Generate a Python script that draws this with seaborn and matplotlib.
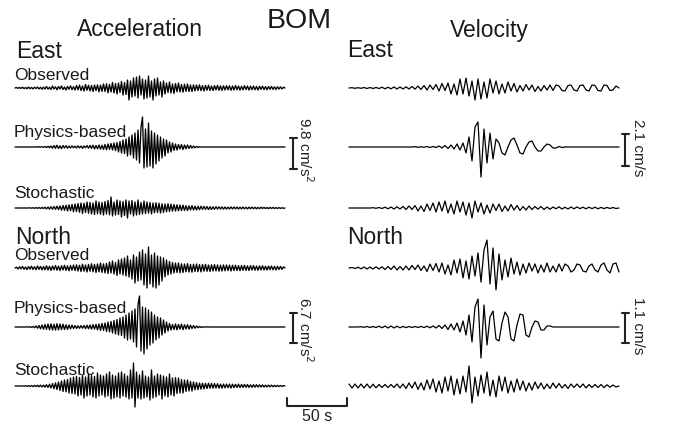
import numpy as np
import pandas as pd
import seaborn as sns
import matplotlib
import matplotlib.pyplot as plt

matplotlib.use('Agg')

dt_acc = 1.25
dt_vel = 2.5

acc_east_obs = [0, .5, -.4, .6, -.5, .8, -.6, .5, -.8, 1, -.7, .6, -.9, .8, -.5, 1, -1, .7, -1.2, .9,
                -1, 1.5, -1.2, .8, -1.5, 2, -1, 1.2, -1.8, 1.5, -1, 2, -1.5, 1, -2, 1.6, -1.3, 2.2, -1.7, 1.4,
                -2, 2.5, -1.8, 3, -2.5, 2, -3, 3.5, -2.2, 2.8, -3, 2.5, -3.5, 3, -2.6, 3.2, -3.8, 2.9, -3.3, 4,
                -3.5, 4.2, -4.8, 3.6, -4, 5.5, -5, 4.5, -6, 5, -4.5, 6.5, -7, 5.5, -6.5, 8, -12, 7, -9, 10,
                -8, 11, -10, 12, -7, 9, -11, 8, -10, 12, -9, 7, -12, 9, -8, 10, -7, 6, -9, 7,
                -6, 5, -4.5, 6, -5, 4, -5.5, 4.5, -3.8, 5, -4, 3.5, -4.2, 3.8, -3.3, 4, -3.5, 3, -3.6, 3.2,
                -2.8, 3, -2.5, 3.2, -2.7, 2.4, -3, 2.6, -2.2, 2.8, -2.5, 2, -2.6, 2.4, -2, 2.7, -2.3, 2.1, -2.5, 2.2,
                -2, 2.4, -1.8, 2.2, -2.3, 1.9, -2, 2.5, -1.8, 2, -2.2, 1.7, -1.9, 2.3, -1.6, 2, -2.1, 1.8, -1.7, 2,
                -1.8, 1.6, -2, 1.7, -1.5, 1.9, -1.6, 1.4, -1.8, 1.5, -1.3, 1.6, -1.4, 1.2, -1.5, 1.3, -1.1, 1.2, -1, .8, 0]
acc_east_phys = [0, 0, 0, 0, 0, 0, 0, 0, 0, 0, 0, 0, 0, 0, .2, -.2, .3, -.2, .3, -.3,
                 .5, -.6, .8, -.7, 1, -1.2, 1.5, -1.3, 1.8, -1.5, 1.2, -1.6, 1.4, -1, 1.3, -1.2, .9, -1, 1.1, -.8,
                 .8, -1, 1.2, -.9, 1, -1.3, 1.1, -.8, 1.5, -1.2, 1.6, -1.4, 1.8, -2, 1.5, -1.7, 2, -2.2, 1.8, -2.4,
                 2.5, -2.8, 3, -2.4, 3.5, -3, 4, -3.6, 4.5, -5, 5.5, -6, 7, -6.5, 8, -9, 10, -8, 12, -11,
                 14, -13, 17, -16, 20, 30, -21, 18, -20, 24, -19, 16, -21, 14, -17, 12, -14, 10, -11, 8,
                 -9, 7, -6, 5, -5, 4, -3.5, 3, -3, 2.5, -2, 2.5, -2.5, 2, -1.8, 2, -1.5, 1.5, -1.2, 1,
                 -.8, .6, -.5, .3, -.2, .1, 0, 0, 0, 0, 0, 0, 0, 0, 0, 0, 0, 0, 0, 0,
                 0, 0, 0, 0, 0, 0, 0, 0, 0, 0, 0, 0, 0, 0, 0, 0, 0, 0, 0, 0,
                 0, 0, 0, 0, 0, 0, 0, 0, 0, 0, 0, 0, 0, 0, 0, 0, 0, 0, 0, 0, 0]
acc_east_stoch = [0, 0, 0, 0, 0, 0, 0, 0, 0, 0, .2, -.2, .3, -.3, .4, -.4, .5, -.5, .6, -.6,
                  .8, -.9, 1, -1.1, 1.3, -1.2, 1.5, -1.4, 1.8, -1.6, 2, -2.2, 2.5, -2.3, 2.8, -3, 3.2, -2.8, 3.5, -3.8,
                  4, -3.5, 4.5, -4.2, 5, -5.5, 4.8, -4.5, 6, -5.2, 5.5, -6, 5, -6.5, 7, -5.8, 6, -6.2, 5.5, -7,
                  6.5, -6, 7.5, -6.8, 11, -8, 6, -7, 8, -6.5, 7, -9, 6.5, -7.5, 8, -10, 7, -6, 7.5, -8,
                  6, -7, 8, -6.5, 5.5, -6, 7, -5.5, 6, -5, 5.5, -6, 5, -4.8, 5.2, -4.5, 4.8, -5, 4.2, -4.5,
                  4, -3.8, 4.2, -3.5, 3.8, -3.2, 3.5, -3, 3.2, -2.8, 3, -2.6, 2.8, -2.5, 2.4, -2.6, 2.2, -2, 2.3, -2,
                  1.8, -2, 1.7, -1.6, 1.8, -1.5, 1.6, -1.4, 1.5, -1.6, 1.3, -1.4, 1.2, -1.3, 1.4, -1.1, 1.2, -1, 1.1, -1.2,
                  1, -1.1, .9, -1, 1.1, -.9, 1, -.8, .9, -1, .8, -.9, 1, -.8, .7, -.9, .8, -.7, .9, -.8,
                  .7, -.8, .6, -.7, .8, -.6, .7, -.6, .5, -.7, .6, -.5, .6, -.5, .4, -.5, .4, -.4, .3, -.3, 0]
acc_north_obs = [0, .8, -1, 1.2, -.9, 1.5, -1.3, 1, -1.6, 1.4, -1.2, 1.8, -1.5, 1.3, -1.7, 2, -1.4, 1.6, -1.9, 1.5,
                 -1.8, 2.2, -2, 1.7, -2.4, 2, -1.8, 2.5, -2.2, 1.9, -2.6, 2.3, -2, 2.7, -2.4, 2.1, -2.8, 2.5, -2.2, 3,
                 -2.6, 3.2, -3, 2.8, -3.5, 3.8, -3.2, 3, -4, 3.5, -3.3, 4.2, -3.8, 3.6, -4.5, 4, -3.8, 5, -4.4, 4.2,
                 -5, 4.6, -5.5, 6, -5, 7, -6, 5.5, -7.5, 8, -6, 9, -7, 10, -8, 12, -9, 8, -11, 13,
                 -15, 11, -13, 16, -12, 18, -17, 14, -20, 21, -16, 13, -19, 15, -20, 12, -17, 11, -13, 10,
                 -9, 8, -7, 6.5, -6, 5.5, -5, 5, -4.5, 5, -4.8, 4.2, -4.5, 4, -3.8, 4.4, -4, 3.6, -4.2, 3.8,
                 -3.5, 4, -3.7, 3.4, -3.9, 3.5, -3.2, 3.7, -3.3, 3, -3.5, 3.2, -3, 3.4, -2.9, 3.1, -3.2, 2.8, -3, 3.1,
                 -2.8, 3, -2.6, 2.9, -3, 2.7, -2.5, 2.8, -2.6, 2.4, -2.7, 2.5, -2.3, 2.6, -2.4, 2.2, -2.5, 2.3, -2.1, 2.4,
                 -2.2, 2, -2.3, 2.1, -1.9, 2.2, -2, 1.8, -2.1, 1.9, -1.7, 2, -1.8, 1.6, -1.9, 1.7, -1.5, 1.6, -1.4, 1.2, 0]
acc_north_phys = [0, 0, 0, 0, 0, 0, 0, 0, .2, -.2, .3, -.4, .5, -.7, 1, -1.2, 1.5, -1.8, 2, -2.3,
                  2.6, -2.4, 3, -2.8, 3.2, -3, 2.7, -3.1, 3.3, -2.9, 3, -2.6, 2.8, -2.5, 2.2, -2.4, 2, -1.8, 1.9, -1.6,
                  1.5, -1.4, 1.2, -1.3, 1.4, -1.2, 1.5, -1.6, 1.8, -1.7, 2, -2.2, 2.4, -2.1, 2.6, -2.8, 3, -3.3, 3.6, -3.4,
                  4, -4.5, 5, -4.8, 5.5, -6, 6.5, -7, 7.5, -8, 9, -8.5, 10, -11, 12, -13, 14, -12, 16, -15,
                  18, -20, 22, 31, -24, 20, -27, 19, -22, 17, -18, 15, -16, 12, -13, 10, -11, 9, -8, 7,
                  -6, 5, -4, 3.5, -3, 2.5, -2.5, 3, -2.8, 2.5, -2.2, 2.8, -2.6, 2.2, -2, 2.4, -2.1, 1.8, -1.6, 1.4,
                  -1.2, 1, -.8, .6, -.5, .3, -.2, .1, 0, 0, 0, 0, 0, 0, 0, 0, 0, 0, 0, 0,
                  0, 0, 0, 0, 0, 0, 0, 0, 0, 0, 0, 0, 0, 0, 0, 0, 0, 0, 0, 0,
                  0, 0, 0, 0, 0, 0, 0, 0, 0, 0, 0, 0, 0, 0, 0, 0, 0, 0, 0, 0, 0]
acc_north_stoch = [0, 0, 0, 0, 0, .2, -.2, .3, -.3, .4, -.5, .5, -.6, .7, -.6, .8, -.8, .9, -1, .9,
                   -1.1, 1.3, -1.5, 1.8, -2, 2.4, -2.8, 3.2, -3.5, 4, -4.5, 5, -5.5, 6, -5.8, 6.5, -7, 8, -7.5, 9,
                   -8, 9.5, -10, 8.5, -9, 11, -12, 9, -10, 12, -9, 10.5, -11, 9.5, -12, 13, -10, 11, -9, 10,
                   -11, 12, -10, 14, -13, 11, -12, 10, -11, 13, -12, 14, -10, 12, -11, 10, -13, 16, -12, 23,
                   -21, 14, -12, 11, -13, 15, -12, 10, -11, 9, -14, 16, -12, 10, -11, 12, -9, 11, -13, 10,
                   -10, 9, -11, 12, -9, 8, -10, 8.5, -7.5, 8, -7, 6.5, -7, 6, -5.5, 6, -5, 4.5, -5, 4,
                   -3.8, 3.5, -3.6, 3, -3.2, 2.8, -3, 2.6, -2.5, 2.8, -2.3, 2.5, -2.2, 2.4, -2, 2.3, -2.1, 1.9, -2.2, 2,
                   -1.8, 2, -1.7, 1.9, -2, 1.8, -1.6, 1.7, -1.5, 1.8, -1.6, 1.5, -1.4, 1.6, -1.3, 1.5, -1.4, 1.2, -1.3, 1.3,
                   -1.2, 1.3, -1.1, 1.2, -1, 1.1, -1, .9, -1, .9, -.8, .9, -.8, .7, -.7, .7, -.6, .5, -.5, .4, 0]

vel_east_obs = [0, .3, -.3, .3, -.3, .5, -.5, .5, -.5, .5,
                -.5, .8, -.8, .8, -.8, 1, -1, 1, -1, 1.2,
                -1, 1.5, -1.2, 2, -1.5, 2.5, -2, 3, -1.5, 3.5,
                -3, 4.5, -2.5, 5, -6, 4, -7, 9, -6, 10,
                -8, 7, -12, 9, -11, 6, -10, 9, -5, 7,
                -6, 4, -5, 6, -3, 4.5, -4, 2.5, -3, 3.5,
                -2, 3, -3.5, 1.5, -3, 2.5, -2, 3, -2.5, 3,
                2, -2.5, -3, 2.5, 3, -2, -3, 2.5, 3, -2,
                -3, 3, 2.5, -2.5, -3, 3, 2.5, -2.5, -2, 2, 0]
vel_east_phys = [0, 0, 0, 0, 0, 0, 0, 0, 0, 0,
                 0, 0, 0, 0, 0, 0, 0, 0, 0, 0,
                 0, 0, .3, -.3, .3, -.3, .5, -.5, .5, -.5,
                 1, -1, 1.5, -1.5, 2, -2, 3, -3, 4, -6,
                 10, -14, 20, 25, -30, 18, -16, 14, -12, 8,
                 4, -6, -8, 0, 7, 9, 2, -6, -7, 0,
                 5, 6, 0, -4, -4, 0, 3, 2, -1, -1,
                 .5, -.5, 0, 0, 0, 0, 0, 0, 0, 0,
                 0, 0, 0, 0, 0, 0, 0, 0, 0, 0, 0]
vel_east_stoch = [0, 0, 0, 0, 0, 0, 0, 0, .3, -.3,
                  .5, -.5, .8, -.8, 1, -1, 1.2, -1, 1.5, -1.5,
                  2, -1.5, 2.5, -3, 2, -3.5, 4, -2.5, 5, -4,
                  6, -3, 7, -5, 4, -6, 7, -4, 6, -7,
                  5, -10, 7, -4, 5, -6, 3, -5, 4, -2.5,
                  4, -3.5, 2, -3, 3.5, -2, 2.5, -2.5, 1.5, -2,
                  2, -1.5, 1.5, -1.2, 1.5, -1.5, 1, -1.2, 1, -.8,
                  1.2, -1, .8, -1, 1, -.8, 1, -.6, .8, -.8,
                  .8, -.6, .8, -.8, .6, -.6, .6, -.5, .5, -.5, 0]
vel_north_obs = [0, .5, -.5, .8, -.8, 1, -1, 1, -1, 1.2,
                 -1, 1.2, -1.5, 1.5, -1.5, 2, -2, 1.5, -2, 2,
                 -2, 2.5, -1.5, 3, -2.5, 2, -3.5, 4, -2.5, 4.5,
                 -4, 5, -6, 3, -7, 8, -5, 9, -10, 7,
                 -11, 12, -8, 15, -14, 18, 28, -16, 20, -22,
                 14, -12, 8, -9, 10, -6, 6, -7, 4, -5,
                 5, -3, 4, -5, 3, -4, 5, -4, 2, -4,
                 4, -3, 4, 2, -4, -2, 4, 3, -3, -4,
                 2, 4, -2, -4, 3, 5, -2, -5, 4, 5, -4]
vel_north_phys = [0, 0, 0, 0, .3, -.3, .5, -.5, .5, -.5,
                  .8, -.8, 1, -1, 1, -1, .8, -.8, .6, -.6,
                  .5, -.5, .5, -.5, .6, -.6, .8, -.8, 1, -1,
                  1.5, -1.5, 2, -2.5, 3, -3, 4, -5, 6, -8,
                  12, -15, 20, 28, -31, 22, -18, 10, 16, -12,
                  -14, 4, 15, 10, -12, -14, 2, 13, 12, -8,
                  -10, 0, 6, 5, -3, -3, 1, 1, 0, 0,
                  0, 0, 0, 0, 0, 0, 0, 0, 0, 0,
                  0, 0, 0, 0, 0, 0, 0, 0, 0, 0, 0]
vel_north_stoch = [2, -2, 2, -2, 2, -2, 2, -2, 1.8, -1.8,
                   1.5, -1.5, 1.5, -1.5, 1.5, -1.5, 2, -2, 2, -2.5,
                   3, -2, 4, -3.5, 3, -4, 6, -3, 7, -6,
                   5, -7, 9, -5, 10, -9, 7, -8, 10, -6,
                   20, -17, 9, -10, 11, -7, 14, -10, 6, -11,
                   10, -5, 9, -7, 5, -6, 7, -4, 5, -5,
                   3, -4, 4, -2.5, 3, -3, 2, -2.5, 3, -2,
                   2.5, -2, 1.5, -2.5, 2, -1.5, 2, -1.5, 2, -2,
                   1.5, -1.5, 1.5, -1.5, 1.5, -1.5, 1.2, -1.2, 1, -1, 0]

row_labels = ["Observed", "Physics-based", "Stochastic"]
scale_labels = ["9.8 cm/s$^2$", "6.7 cm/s$^2$", "2.1 cm/s", "1.1 cm/s"]

# layout (pixels on a 673x424 canvas)
px_per_s = 1.2
acc_x0, vel_x0 = 15, 349
baselines = [88, 147, 208, 268, 327, 386]

sns.set_style("white")
plt.rcParams['font.family'] = ['Liberation Sans', 'DejaVu Sans']

fig = plt.figure(figsize=(6.73, 4.24), dpi=100)
ax = fig.add_axes([0, 0, 1, 1])

acc_traces = [acc_east_obs, acc_east_phys, acc_east_stoch,
              acc_north_obs, acc_north_phys, acc_north_stoch]
vel_traces = [vel_east_obs, vel_east_phys, vel_east_stoch,
              vel_north_obs, vel_north_phys, vel_north_stoch]

for x0, step, traces, lw in [(acc_x0, dt_acc, acc_traces, 0.95),
                             (vel_x0, dt_vel, vel_traces, 0.9)]:
    for base, amp in zip(baselines, traces):
        amp = np.array(amp, dtype=float)
        t = np.arange(len(amp)) * step
        df = pd.DataFrame({"x": x0 + t * px_per_s, "y": base - amp})
        sns.lineplot(data=df, x="x", y="y", ax=ax, color="black", lw=lw,
                     estimator=None, sort=False)

ax.set_xlim(0, 673)
ax.set_ylim(424, 0)
ax.axis('off')

# titles
ax.text(267, 28, "BOM", fontsize=20.5, va="baseline", color="#1a1a1a")
ax.text(77, 36, "Acceleration", fontsize=16.5, va="baseline", color="#1a1a1a")
ax.text(450, 37, "Velocity", fontsize=16.5, va="baseline", color="#1a1a1a")
ax.text(16, 58, "East", fontsize=16.5, va="baseline", color="#1a1a1a")
ax.text(347, 57, "East", fontsize=16.5, va="baseline", color="#1a1a1a")
ax.text(15, 244, "North", fontsize=16.5, va="baseline", color="#1a1a1a")
ax.text(347, 244, "North", fontsize=16.5, va="baseline", color="#1a1a1a")

for y, lab in zip([80, 137, 198, 260, 313, 375], row_labels * 2):
    ax.text(14, y, lab, fontsize=12.5, va="baseline", color="#1a1a1a")

# amplitude scale bars
bars = [(293, 138, 169, 305, 117), (293, 313, 343, 305, 297),
        (625, 134, 166, 638, 119), (625, 313, 343, 638, 297)]
for (bx, y1, y2, tx, ty), lab in zip(bars, scale_labels):
    ax.plot([bx, bx], [y1, y2], color="#222222", lw=1.5)
    ax.plot([bx - 3.5, bx + 3.5], [y1, y1], color="#222222", lw=1.5)
    ax.plot([bx - 3.5, bx + 3.5], [y2, y2], color="#222222", lw=1.5)
    ax.text(tx, ty, lab, fontsize=11, rotation=-90, ha="center", va="top",
            color="#222222")

# time scale bar: 50 s
tx0 = 287
ax.plot([tx0, tx0, tx0 + 50 * px_per_s, tx0 + 50 * px_per_s],
        [398, 406, 406, 398], color="#222222", lw=1.5)
ax.text(tx0 + 25 * px_per_s, 421, "50 s", fontsize=11.5, ha="center",
        va="baseline", color="#222222")

plt.savefig("out.png", dpi=100)
plt.close()
